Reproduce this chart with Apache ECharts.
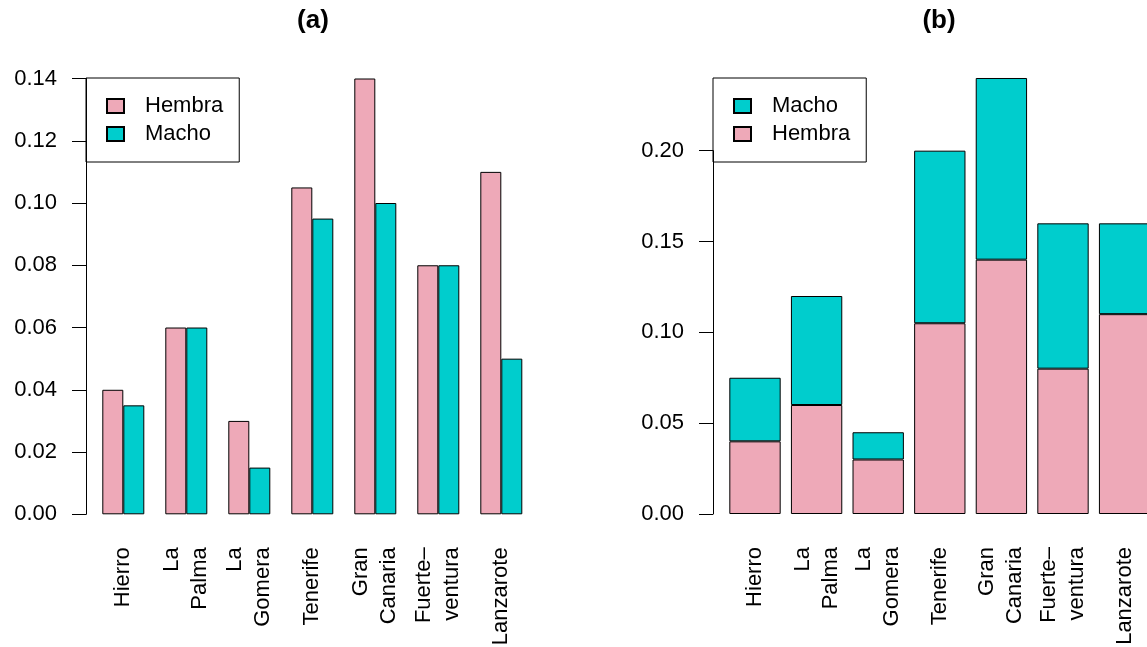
<!DOCTYPE html>
<html>
<head>
<meta charset="utf-8">
<script src="https://cdn.jsdelivr.net/npm/echarts@6/dist/echarts.min.js"></script>
<style>
  html, body { margin: 0; padding: 0; background: #fff; }
  #chart { width: 1147px; height: 647px; }
</style>
</head>
<body>
<div id="chart"></div>
<script>
// Island categories (two-line names break at the newline)
const categories = ['Hierro', 'La\nPalma', 'La\nGomera', 'Tenerife', 'Gran\nCanaria', 'Fuerte–\nventura', 'Lanzarote'];
// Proportions by sex for each island
const hembra = [0.04, 0.06, 0.03, 0.105, 0.14, 0.08, 0.11];
const macho  = [0.035, 0.06, 0.015, 0.095, 0.10, 0.08, 0.05];
// Axis ranges and tick steps
const yMaxA = 0.14, yStepA = 0.02;
const yMaxB = 0.24, yAxisTopB = 0.20, yStepB = 0.05;
const titles = ['(a)', '(b)'];

const FONT = 'Liberation Sans, Arial, Helvetica, sans-serif';
const PINK = '#EEA9B8';
const CYAN = '#00CDCD';
const BLACK = '#000';

const barStyle = c => ({ color: c, borderColor: BLACK, borderWidth: 1 });

const yAxisBase = {
  type: 'value',
  position: 'left',
  axisLine: { show: true, onZero: false, lineStyle: { color: BLACK, width: 1 } },
  axisTick: { show: true, length: 14, lineStyle: { color: BLACK, width: 1 } },
  axisLabel: { margin: 29, fontSize: 22, color: BLACK, fontFamily: FONT,
               formatter: v => v.toFixed(2) },
  splitLine: { show: false }
};

const xCatBase = {
  type: 'category',
  data: categories,
  axisLine: { show: false },
  axisTick: { show: false },
  axisLabel: { interval: 0, rotate: 90, margin: 33, fontSize: 22, lineHeight: 28,
               color: BLACK, fontFamily: FONT }
};

const legendBase = {
  orient: 'vertical',
  icon: 'rect',
  itemWidth: 17,
  itemHeight: 14,
  itemGap: 0,
  padding: [14, 16, 14, 20],
  borderColor: BLACK,
  borderWidth: 1,
  selectedMode: false,
  textStyle: { fontSize: 22, lineHeight: 28, color: BLACK, fontFamily: FONT, padding: [0, 0, 0, 16] }
};

const titleStyle = { fontSize: 26, fontWeight: 'bold', color: BLACK, fontFamily: FONT };

const gridBase = { outerBoundsMode: 'none', containLabel: false };

const option = {
  animation: false,
  backgroundColor: '#fff',
  title: [
    { text: titles[0], left: 313, top: 8, textAlign: 'center', padding: 0, textStyle: titleStyle },
    { text: titles[1], left: 939, top: 8, textAlign: 'center', padding: 0, textStyle: titleStyle }
  ],
  legend: [
    Object.assign({}, legendBase, { data: ['Hembra', 'Macho'], left: 86, top: 78 }),
    Object.assign({}, legendBase, { data: ['Macho', 'Hembra'], left: 713, top: 78 })
  ],
  grid: [
    // (a) grouped bars
    Object.assign({}, gridBase, { left: 91.8, width: 441, top: 78.5, bottom: 132.7 }),
    // (b) stacked bars
    Object.assign({}, gridBase, { left: 724.2, width: 431.2, top: 78, bottom: 133 }),
    // (b) visible axis, spanning only the labelled range
    Object.assign({}, gridBase, { left: 724.2, width: 431.2, top: 150.7, bottom: 133 })
  ],
  xAxis: [
    Object.assign({}, xCatBase, { gridIndex: 0 }),
    Object.assign({}, xCatBase, { gridIndex: 1 }),
    { type: 'value', gridIndex: 2, min: 0, max: 1, show: false }
  ],
  yAxis: [
    Object.assign({}, yAxisBase, { gridIndex: 0, min: 0, max: yMaxA, interval: yStepA, offset: 5.8 }),
    { type: 'value', gridIndex: 1, min: 0, max: yMaxB, show: false, splitLine: { show: false } },
    Object.assign({}, yAxisBase, { gridIndex: 2, min: 0, max: yAxisTopB, interval: yStepB, offset: 11.2 })
  ],
  series: [
    { name: 'Hembra', type: 'bar', xAxisIndex: 0, yAxisIndex: 0, data: hembra,
      barWidth: 21, barGap: '0%', itemStyle: barStyle(PINK) },
    { name: 'Macho', type: 'bar', xAxisIndex: 0, yAxisIndex: 0, data: macho,
      barWidth: 21, barGap: '0%', itemStyle: barStyle(CYAN) },
    { name: 'Hembra', type: 'bar', xAxisIndex: 1, yAxisIndex: 1, data: hembra,
      stack: 'total', barWidth: 51.35, itemStyle: barStyle(PINK) },
    { name: 'Macho', type: 'bar', xAxisIndex: 1, yAxisIndex: 1, data: macho,
      stack: 'total', barWidth: 51.35, itemStyle: barStyle(CYAN) }
  ]
};

const chart = echarts.init(document.getElementById('chart'), null, { renderer: 'canvas' });
chart.setOption(option);
</script>
</body>
</html>
